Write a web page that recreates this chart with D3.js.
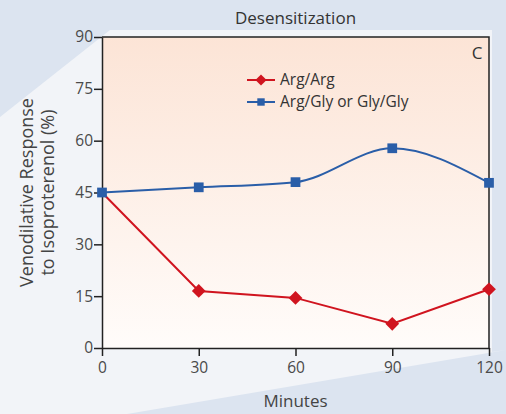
<!DOCTYPE html>
<html>
<head>
<meta charset="utf-8">
<script src="https://cdn.jsdelivr.net/npm/d3@7"></script>
<style>
  html, body { margin: 0; padding: 0; background: #dde5f1; }
  svg { display: block; font-family: 'Open Sans', Lato, sans-serif; }
</style>
</head>
<body>
<div id="chart"></div>
<script>
const width = 506;
const height = 414;
const margin = { top: 37, right: 17, bottom: 66, left: 102 };
const innerWidth = width - margin.left - margin.right;
const innerHeight = height - margin.top - margin.bottom;
const fontFamily = "'Open Sans', Lato, sans-serif";

// data
const minutes = [0, 30, 60, 90, 120];
const argArg = [45, 16.5, 14.5, 7, 17];
const argGly = [45, 46.5, 48, 57.8, 47.8];
const seriesNames = ['Arg/Arg', 'Arg/Gly or Gly/Gly'];
const xTicks = [0, 30, 60, 90, 120];
const yTicks = [0, 15, 30, 45, 60, 75, 90];

const red = '#d0141f';
const blue = '#2a5ea8';

const svg = d3.select('#chart')
    .append('svg')
    .attr('width', width)
    .attr('height', height);

// background wedge
svg.append('rect')
    .attr('width', width)
    .attr('height', height)
    .attr('fill', '#dce4f0');

svg.append('path')
    .attr('d', 'M0,117 L110,30 L492,30 L492,352 L506,350 L127,414 L0,414 Z')
    .attr('fill', '#f2f4f8');

const defs = svg.append('defs');
const grad = defs.append('linearGradient')
    .attr('id', 'plotbg')
    .attr('x1', 0).attr('y1', 0)
    .attr('x2', 0).attr('y2', 1);
grad.append('stop').attr('offset', '0%').attr('stop-color', '#fce4d6');
grad.append('stop').attr('offset', '100%').attr('stop-color', '#fffcfa');

const g = svg.append('g')
    .attr('transform', `translate(${margin.left}, ${margin.top})`);

const xScale = d3.scaleLinear()
    .domain([0, 120])
    .range([0, innerWidth]);

const yScale = d3.scaleLinear()
    .domain([0, 90])
    .range([innerHeight, 0]);

g.append('rect')
    .attr('width', innerWidth)
    .attr('height', innerHeight)
    .attr('fill', 'url(#plotbg)');

// frame top and right
g.append('path')
    .attr('d', `M0,0 H${innerWidth} V${innerHeight}`)
    .attr('fill', 'none')
    .attr('stroke', '#222')
    .attr('stroke-width', 1.5);

// axes
const xAxis = g.append('g')
    .attr('transform', `translate(0, ${innerHeight})`)
    .call(d3.axisBottom(xScale).tickValues(xTicks).tickSize(8).tickPadding(6).tickSizeOuter(0));

const yAxis = g.append('g')
    .call(d3.axisLeft(yScale).tickValues(yTicks).tickSize(8).tickPadding(1).tickSizeOuter(0));

[xAxis, yAxis].forEach(ax => {
    ax.select('.domain').attr('stroke', '#222').attr('stroke-width', 1.5);
    ax.selectAll('.tick line').attr('stroke', '#222').attr('stroke-width', 1.5);
    ax.selectAll('.tick text')
        .attr('fill', '#4a4a4a')
        .style('font-size', '15.5px')
        .style('font-family', fontFamily);
});

// lines
const redLine = d3.line()
    .x((d, i) => xScale(minutes[i]))
    .y(d => yScale(d));

const blueLine = d3.line()
    .x((d, i) => xScale(minutes[i]))
    .y(d => yScale(d))
    .curve(d3.curveMonotoneX);

g.append('path')
    .datum(argArg)
    .attr('fill', 'none')
    .attr('stroke', red)
    .attr('stroke-width', 2)
    .attr('d', redLine);

g.append('path')
    .datum(argGly)
    .attr('fill', 'none')
    .attr('stroke', blue)
    .attr('stroke-width', 2)
    .attr('d', blueLine);

const diamond = d3.symbol().type(d3.symbolDiamond2).size(120);
const square = d3.symbol().type(d3.symbolSquare).size(95);

g.append('g')
    .selectAll('path')
    .data(argGly)
    .enter()
    .append('path')
        .attr('d', square)
        .attr('transform', (d, i) => `translate(${xScale(minutes[i])}, ${yScale(d)})`)
        .attr('fill', blue);

g.append('g')
    .selectAll('path')
    .data(argArg.slice(1))
    .enter()
    .append('path')
        .attr('d', diamond)
        .attr('transform', (d, i) => `translate(${xScale(minutes[i + 1])}, ${yScale(d)})`)
        .attr('fill', red);

// legend
const legend = g.append('g')
    .attr('transform', `translate(${247 - margin.left}, ${80 - margin.top})`);

const legendColors = [red, blue];
const legendSymbols = [d3.symbol().type(d3.symbolDiamond2).size(80), d3.symbol().type(d3.symbolSquare).size(55)];

seriesNames.forEach((name, i) => {
    const row = legend.append('g').attr('transform', `translate(0, ${i * 22})`);
    row.append('line')
        .attr('x1', 0).attr('x2', 28)
        .attr('stroke', legendColors[i])
        .attr('stroke-width', 2);
    row.append('path')
        .attr('d', legendSymbols[i])
        .attr('transform', 'translate(14, 0)')
        .attr('fill', legendColors[i]);
    row.append('text')
        .attr('x', 33)
        .attr('dy', '0.35em')
        .attr('fill', '#333')
        .style('font-size', '15.5px')
        .text(name);
});

// panel letter
g.append('text')
    .attr('x', innerWidth - 12)
    .attr('y', 22)
    .attr('text-anchor', 'middle')
    .attr('fill', '#333')
    .style('font-size', '17px')
    .text('C');

// title
svg.append('text')
    .attr('x', margin.left + innerWidth / 2)
    .attr('y', 24)
    .attr('text-anchor', 'middle')
    .attr('fill', '#333')
    .style('font-size', '17px')
    .text('Desensitization');

// x label
svg.append('text')
    .attr('x', margin.left + innerWidth / 2)
    .attr('y', 407)
    .attr('text-anchor', 'middle')
    .attr('fill', '#444')
    .style('font-size', '17px')
    .text('Minutes');

// y label
const yLabel = svg.append('text')
    .attr('transform', `translate(0, ${margin.top + innerHeight / 2}) rotate(-90)`)
    .attr('text-anchor', 'middle')
    .attr('fill', '#444')
    .style('font-size', '18px');

yLabel.append('tspan').attr('x', 0).attr('y', 33).text('Venodilative Response');
yLabel.append('tspan').attr('x', 0).attr('y', 54).text('to Isoproterenol (%)');
</script>
</body>
</html>
